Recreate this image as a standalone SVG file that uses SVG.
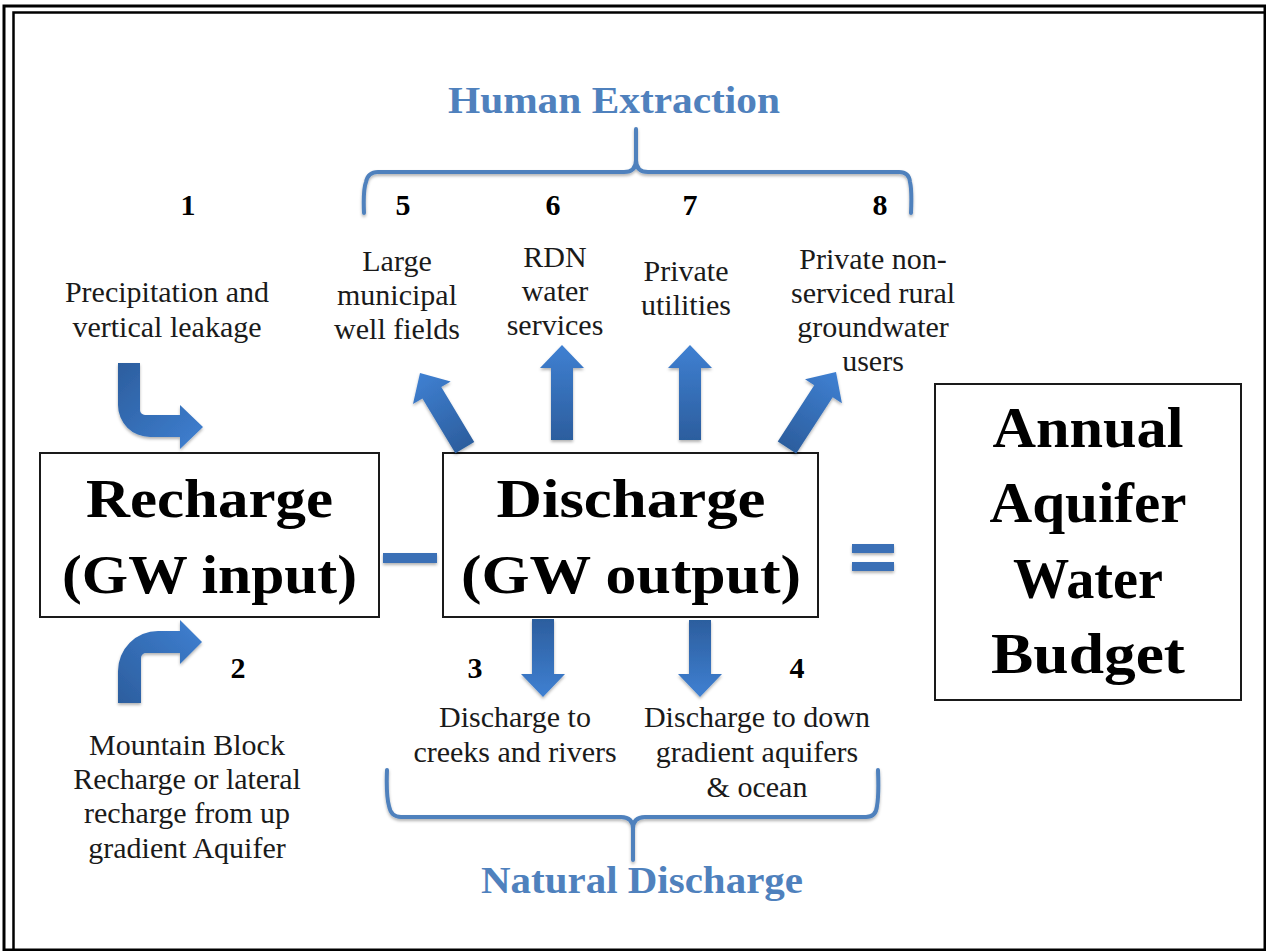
<svg xmlns="http://www.w3.org/2000/svg" width="1266" height="951" viewBox="0 0 1266 951">
<style>
  .box { fill: #ffffff; stroke: #1a1a1a; stroke-width: 2; }
  .big { font-family: "Liberation Serif", "Times New Roman", serif; font-weight: bold; font-size: 54px; fill: #000; text-anchor: middle; }
  .huge { font-family: "Liberation Serif", "Times New Roman", serif; font-weight: bold; font-size: 57px; fill: #000; text-anchor: middle; }
  .lbl { font-family: "Liberation Serif", "Times New Roman", serif; font-size: 30px; fill: #1a1a1a; text-anchor: middle; }
  .num { font-family: "Liberation Serif", "Times New Roman", serif; font-weight: bold; font-size: 30px; fill: #000; text-anchor: middle; }
  .head { font-family: "Liberation Serif", "Times New Roman", serif; font-weight: bold; font-size: 37px; fill: #4F81BD; text-anchor: middle; }
  .brace { fill: none; stroke: #4F81BD; stroke-width: 4; stroke-linecap: round; stroke-linejoin: round; }
  .arrow { fill: url(#arrowGrad); }
  .bar { fill: #3B6FB6; }
</style>
<defs>
  <linearGradient id="arrowGrad" x1="0" y1="0" x2="0" y2="1">
    <stop offset="0" stop-color="#3F80D2"/>
    <stop offset="1" stop-color="#2C5E9E"/>
  </linearGradient>
  <linearGradient id="bentGrad1" x1="0" y1="0" x2="1" y2="1">
    <stop offset="0" stop-color="#2C5E9E"/>
    <stop offset="1" stop-color="#3F80D2"/>
  </linearGradient>
  <linearGradient id="bentGrad2" x1="0" y1="1" x2="1" y2="0">
    <stop offset="0" stop-color="#2C5E9E"/>
    <stop offset="1" stop-color="#3F80D2"/>
  </linearGradient>
  <filter id="shadow" x="-20%" y="-20%" width="140%" height="140%">
    <feDropShadow dx="0" dy="2" stdDeviation="1.5" flood-color="#000" flood-opacity="0.3"/>
  </filter>
  <path id="upArrow6" d="M0,0 L22,23 L11,23 L11,95 L-11,95 L-11,23 L-22,23 Z"/>
</defs>

<rect x="0" y="0" width="1266" height="951" fill="#ffffff"/>

<!-- frame -->
<g id="frame" fill="none">
  <rect x="4" y="6" width="1261" height="944" stroke="#000" stroke-width="3"/>
  <rect x="13.5" y="12.5" width="1300" height="1000" stroke="#000" stroke-width="2.5"/>
</g>

<!-- nodes -->
<g id="recharge">
  <rect class="box" x="40" y="453" width="339" height="164"/>
  <text class="big" x="209.5" y="517" textLength="247" lengthAdjust="spacingAndGlyphs">Recharge</text>
  <text class="big" x="209.5" y="593" textLength="295" lengthAdjust="spacingAndGlyphs">(GW input)</text>
</g>

<g id="discharge">
  <rect class="box" x="443" y="453" width="375" height="164"/>
  <text class="big" x="631" y="517" textLength="269" lengthAdjust="spacingAndGlyphs">Discharge</text>
  <text class="big" x="631" y="593" textLength="340" lengthAdjust="spacingAndGlyphs">(GW output)</text>
</g>

<g id="budget">
  <rect class="box" x="935" y="384" width="306" height="316"/>
  <text class="huge" x="1088" y="447" textLength="191" lengthAdjust="spacingAndGlyphs">Annual</text>
  <text class="huge" x="1088" y="522" textLength="197" lengthAdjust="spacingAndGlyphs">Aquifer</text>
  <text class="huge" x="1088" y="598" textLength="150" lengthAdjust="spacingAndGlyphs">Water</text>
  <text class="huge" x="1088" y="673" textLength="194" lengthAdjust="spacingAndGlyphs">Budget</text>
</g>

<g id="operators" filter="url(#shadow)">
  <rect class="bar" x="383" y="553" width="54" height="10"/>
  <rect class="bar" x="852" y="544" width="42" height="9"/>
  <rect class="bar" x="852" y="562" width="42" height="9"/>
</g>

<!-- headings -->
<g id="human-extraction">
  <text class="head" x="614" y="113" textLength="332" lengthAdjust="spacingAndGlyphs">Human Extraction</text>
</g>
<g id="natural-discharge">
  <text class="head" x="642" y="893" textLength="322" lengthAdjust="spacingAndGlyphs">Natural Discharge</text>
</g>

<!-- labels -->
<g id="item1">
  <text class="num" x="188" y="215">1</text>
  <text class="lbl" x="167" y="302">Precipitation and</text>
  <text class="lbl" x="167" y="337">vertical leakage</text>
</g>
<g id="item2">
  <text class="num" x="238" y="678">2</text>
  <text class="lbl" x="187" y="755">Mountain Block</text>
  <text class="lbl" x="187" y="789">Recharge or lateral</text>
  <text class="lbl" x="187" y="823">recharge from up</text>
  <text class="lbl" x="187" y="858">gradient Aquifer</text>
</g>
<g id="item3">
  <text class="num" x="475" y="678">3</text>
  <text class="lbl" x="515" y="727">Discharge to</text>
  <text class="lbl" x="515" y="762">creeks and rivers</text>
</g>
<g id="item4">
  <text class="num" x="797" y="678">4</text>
  <text class="lbl" x="757" y="727">Discharge to down</text>
  <text class="lbl" x="757" y="762">gradient aquifers</text>
  <text class="lbl" x="757" y="797">&amp; ocean</text>
</g>
<g id="item5">
  <text class="num" x="403" y="215">5</text>
  <text class="lbl" x="397" y="271">Large</text>
  <text class="lbl" x="397" y="305">municipal</text>
  <text class="lbl" x="397" y="339">well fields</text>
</g>
<g id="item6">
  <text class="num" x="553" y="215">6</text>
  <text class="lbl" x="555" y="267">RDN</text>
  <text class="lbl" x="555" y="301">water</text>
  <text class="lbl" x="555" y="335">services</text>
</g>
<g id="item7">
  <text class="num" x="690" y="215">7</text>
  <text class="lbl" x="686" y="281">Private</text>
  <text class="lbl" x="686" y="315">utilities</text>
</g>
<g id="item8">
  <text class="num" x="880" y="215">8</text>
  <text class="lbl" x="873" y="269">Private non-</text>
  <text class="lbl" x="873" y="303">serviced rural</text>
  <text class="lbl" x="873" y="337">groundwater</text>
  <text class="lbl" x="873" y="371">users</text>
</g>

<!-- connectors -->
<g id="connectors" filter="url(#shadow)">
  <!-- 1: bent arrow into recharge -->
  <path fill="url(#bentGrad1)" d="M118,363 H140 V410 A5,5 0 0 0 145,415 H180 V405 L203,427 L180,449 V437 H150 A32,32 0 0 1 118,405 Z"/>
  <!-- 2: bent arrow into recharge from below -->
  <path fill="url(#bentGrad2)" d="M118,703 V671 A40,40 0 0 1 158,631 H180 V620 L202,642 L180,664 V653 H146 A5,5 0 0 0 141,658 V703 Z"/>
  <!-- 5 -->
  <path class="arrow" transform="translate(420,373) rotate(-31)" d="M0,0 L22,23 L11,23 L11,87 L-11,87 L-11,23 L-22,23 Z"/>
  <!-- 6 -->
  <use class="arrow" href="#upArrow6" transform="translate(562,345)"/>
  <!-- 7 -->
  <use class="arrow" href="#upArrow6" transform="translate(690,345)"/>
  <!-- 8 -->
  <path class="arrow" transform="translate(836,372) rotate(33)" d="M0,0 L22,23 L11,23 L11,90 L-11,90 L-11,23 L-22,23 Z"/>
  <!-- 3 -->
  <path class="arrow" transform="translate(543,697) rotate(180)" d="M0,0 L22,23 L11,23 L11,78 L-11,78 L-11,23 L-22,23 Z"/>
  <!-- 4 -->
  <path class="arrow" transform="translate(700,697) rotate(180)" d="M0,0 L22,23 L11,23 L11,77 L-11,77 L-11,23 L-22,23 Z"/>
</g>

<!-- braces -->
<g id="braces" filter="url(#shadow)">
  <path class="brace" d="M364,213 Q363,190 366,182 Q368,172 378,172 H624 Q636,172 636,160 V129 M636,160 Q636,172 648,172 H899 Q909,172 910,182 Q912,190 911,213"/>
  <path class="brace" d="M387,770 Q386,795 389,806 Q391,817 401,817 H621 Q633,817 633,829 V860 M633,829 Q633,817 645,817 H866 Q876,817 877,806 Q879,795 878,770"/>
</g>
</svg>
